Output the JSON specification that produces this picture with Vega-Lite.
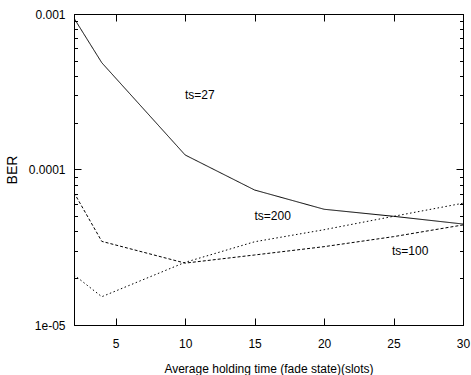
{
  "$schema": "https://vega.github.io/schema/vega-lite/v6.json",
  "width": 389,
  "height": 311,
  "autosize": "none",
  "padding": {"left": 74, "top": 14, "right": 8, "bottom": 50},
  "background": "white",
  "config": {
    "view": {"stroke": "black", "strokeWidth": 1},
    "font": "Liberation Sans",
    "axis": {
      "domainColor": "black",
      "tickColor": "black",
      "labelColor": "black",
      "titleColor": "black",
      "labelFont": "Liberation Sans",
      "titleFont": "Liberation Sans",
      "labelFontSize": 12,
      "titleFontSize": 12,
      "titleFontWeight": "normal",
      "grid": false
    }
  },
  "datasets": {
    "lines": [
      {"series": "ts=27", "t": 2, "ber": 0.00094},
      {"series": "ts=27", "t": 4, "ber": 0.000486},
      {"series": "ts=27", "t": 10, "ber": 0.000124},
      {"series": "ts=27", "t": 15, "ber": 0.0000738},
      {"series": "ts=27", "t": 20, "ber": 0.0000555},
      {"series": "ts=27", "t": 25, "ber": 0.00005},
      {"series": "ts=27", "t": 30, "ber": 0.0000446},
      {"series": "ts=100", "t": 2, "ber": 0.000071},
      {"series": "ts=100", "t": 4, "ber": 0.0000345},
      {"series": "ts=100", "t": 10, "ber": 0.000025},
      {"series": "ts=100", "t": 15, "ber": 0.0000282},
      {"series": "ts=100", "t": 20, "ber": 0.0000319},
      {"series": "ts=100", "t": 25, "ber": 0.000037},
      {"series": "ts=100", "t": 30, "ber": 0.000044},
      {"series": "ts=200", "t": 2, "ber": 0.000021},
      {"series": "ts=200", "t": 4, "ber": 0.0000152},
      {"series": "ts=200", "t": 10, "ber": 0.0000253},
      {"series": "ts=200", "t": 15, "ber": 0.0000343},
      {"series": "ts=200", "t": 20, "ber": 0.000041},
      {"series": "ts=200", "t": 25, "ber": 0.00005},
      {"series": "ts=200", "t": 30, "ber": 0.0000607}
    ],
    "labels": [
      {"label": "ts=27", "t": 11.05, "ber": 0.000301},
      {"label": "ts=200", "t": 16.3, "ber": 0.0000502},
      {"label": "ts=100", "t": 26.2, "ber": 0.0000299}
    ]
  },
  "layer": [
    {
      "data": {"name": "lines"},
      "mark": {"type": "line", "color": "black", "strokeWidth": 1, "clip": true},
      "encoding": {
        "x": {
          "field": "t", "type": "quantitative",
          "scale": {"domain": [2, 30], "nice": false, "zero": false},
          "axis": {
            "orient": "bottom",
            "title": "Average holding time (fade state)(slots)",
            "values": [5, 10, 15, 20, 25, 30],
            "tickSize": -7,
            "labelPadding": 20,
            "titlePadding": 14,
            "labelFlush": false
          }
        },
        "y": {
          "field": "ber", "type": "quantitative",
          "scale": {"type": "log", "domain": [0.00001, 0.001], "nice": false},
          "axis": {
            "orient": "left",
            "title": "BER",
            "titleFont": "Liberation Sans",
            "titleFontSize": 14,
            "titlePadding": 9,
            "values": [0.00001, 0.00002, 0.00003, 0.00004, 0.00005, 0.00006, 0.00007, 0.00008, 0.00009, 0.0001, 0.0002, 0.0003, 0.0004, 0.0005, 0.0006, 0.0007, 0.0008, 0.0009, 0.001],
            "labelExpr": "datum.value == 0.001 ? '0.001' : datum.value == 0.0001 ? '0.0001' : datum.value == 0.00001 ? '1e-05' : ''",
            "tickSize": {"condition": {"test": "datum.value == 0.001 || datum.value == 0.0001 || datum.value == 0.00001", "value": -7}, "value": -3.5},
            "labelPadding": 16,
            "labelFlush": false
          }
        },
        "strokeDash": {
          "field": "series", "type": "nominal",
          "scale": {"domain": ["ts=27", "ts=100", "ts=200"], "range": [[1, 0], [3, 2], [1.5, 2.5]]},
          "legend": null
        }
      }
    },
    {
      "data": {"name": "labels"},
      "mark": {"type": "text", "font": "Liberation Sans", "fontSize": 12, "color": "black", "align": "center", "baseline": "middle"},
      "encoding": {
        "x": {
          "field": "t", "type": "quantitative",
          "scale": {"domain": [2, 30], "nice": false, "zero": false},
          "axis": {"orient": "top", "title": null, "values": [5, 10, 15, 20, 25, 30], "labels": false, "tickSize": -7}
        },
        "y": {
          "field": "ber", "type": "quantitative",
          "scale": {"type": "log", "domain": [0.00001, 0.001], "nice": false},
          "axis": {
            "orient": "right", "title": null, "labels": false,
            "values": [0.00001, 0.00002, 0.00003, 0.00004, 0.00005, 0.00006, 0.00007, 0.00008, 0.00009, 0.0001, 0.0002, 0.0003, 0.0004, 0.0005, 0.0006, 0.0007, 0.0008, 0.0009, 0.001],
            "tickSize": {"condition": {"test": "datum.value == 0.001 || datum.value == 0.0001 || datum.value == 0.00001", "value": -7}, "value": -3.5}
          }
        },
        "text": {"field": "label", "type": "nominal"}
      }
    }
  ],
  "resolve": {"scale": {"x": "independent", "y": "independent"}}
}
